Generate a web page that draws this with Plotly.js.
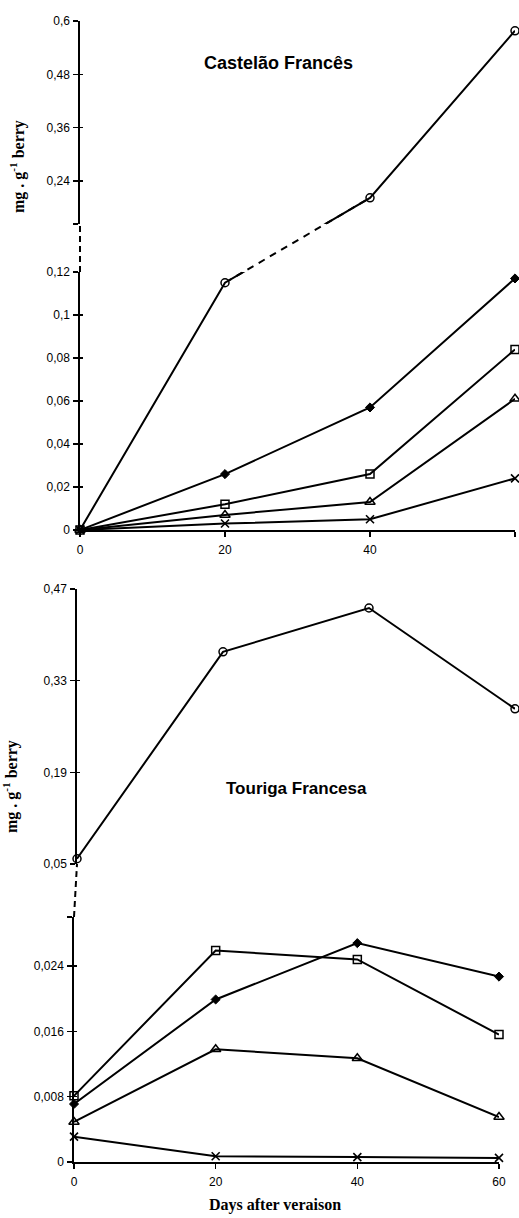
<!DOCTYPE html>
<html><head><meta charset="utf-8">
<script src="https://cdn.plot.ly/plotly-3.0.1.min.js"></script>
<style>html,body{margin:0;padding:0;background:#fff;} #chart{width:519px;height:1218px;}</style>
</head><body><div id="chart"></div>
<script>
// ---------------- DATA ----------------
const days = [0, 20, 40, 60];
const dayLabels = ['0', '20', '40', '60'];

// Castelão Francês (mg . g-1 berry)
const cfCircle   = [0, 0.115, 0.202, 0.578];
const cfDiamond  = [0, 0.026, 0.057, 0.117];
const cfSquare   = [0, 0.012, 0.026, 0.084];
const cfTriangle = [0, 0.007, 0.013, 0.061];
const cfCross    = [0, 0.003, 0.005, 0.024];
const cfLowerTicks  = [0, 0.02, 0.04, 0.06, 0.08, 0.1, 0.12];
const cfLowerLabels = ['0', '0,02', '0,04', '0,06', '0,08', '0,1', '0,12'];
const cfUpperTicks  = [0.24, 0.36, 0.48, 0.6];
const cfUpperLabels = ['0,24', '0,36', '0,48', '0,6'];

// Touriga Francesa (mg . g-1 berry)
const tfCircle   = [0.058, 0.374, 0.441, 0.287];
const tfDiamond  = [0.0071, 0.0199, 0.0268, 0.0227];
const tfSquare   = [0.0081, 0.0259, 0.0248, 0.0156];
const tfTriangle = [0.0049, 0.0138, 0.0127, 0.0055];
const tfCross    = [0.0031, 0.0007, 0.0006, 0.0005];
const tfLowerTicks  = [0, 0.008, 0.016, 0.024];
const tfLowerLabels = ['0', '0,008', '0,016', '0,024'];
const tfUpperTicks  = [0.05, 0.19, 0.33, 0.47];
const tfUpperLabels = ['0,05', '0,19', '0,33', '0,47'];

// ---------------- STYLE ----------------
const W = 519, H = 1218;
const px2x = p => p / W;
const px2y = p => 1 - p / H;
const tickFont = {family: 'Liberation Sans, Arial, sans-serif', size: 12, color: '#000'};
const LW = 2;
const styles = {
  circle:   {symbol: 'circle',        size: 8, color: '#fff', line: {color: '#000', width: 1.5}},
  diamond:  {symbol: 'diamond',       size: 7, color: '#000', line: {color: '#000', width: 1}},
  square:   {symbol: 'square',        size: 8, color: '#fff', line: {color: '#000', width: 1.5}},
  triangle: {symbol: 'triangle-up',   size: 9, color: '#fff', line: {color: '#000', width: 1.5}},
  cross:    {symbol: 'x-thin-open',   size: 8, color: '#000', line: {color: '#000', width: 1.6}}
};

const traces = [];
const layout = {
  width: W, height: H, margin: {l: 0, r: 0, t: 0, b: 0},
  paper_bgcolor: '#fff', plot_bgcolor: 'rgba(0,0,0,0)', showlegend: false,
  shapes: [], annotations: []
};
const axKey = (id, c) => (id === c ? c + 'axis' : c + 'axis' + id.slice(1));

function buildPanel(p) {
  const lowerH = p.lowerPx[1] - p.lowerPx[0];
  const gap = p.lowerPx[0] - p.upperPx[1];
  const upperH = p.upperPx[1] - p.upperPx[0];
  const total = lowerH + gap + upperH;
  const lo = p.lowerRange, up = p.upperRange;
  const f = v => v <= lo[1]
    ? (v - lo[0]) / (lo[1] - lo[0]) * lowerH
    : lowerH + gap + (v - up[0]) / (up[1] - up[0]) * upperH;

  const lv = p.lowerTicks.slice(), lt = p.lowerLabels.slice();
  if (!lv.includes(lo[1])) { lv.push(lo[1]); lt.push(' '); }
  const uv = p.upperTicks.slice(), ut = p.upperLabels.slice();
  if (!uv.includes(up[0])) { uv.unshift(up[0]); ut.unshift(' '); }

  const common = {showgrid: false, zeroline: false, fixedrange: true, tickmode: 'array',
    linecolor: '#000', tickcolor: '#000', tickwidth: 1.5, tickfont: tickFont};

  layout[axKey(p.yA, 'y')] = {domain: [px2y(p.lowerPx[1]), px2y(p.upperPx[0])], range: [0, total],
    visible: false, anchor: p.xLower, fixedrange: true};
  layout[axKey(p.yL, 'y')] = Object.assign({}, common, {
    domain: [px2y(p.lowerPx[1]), px2y(p.lowerPx[0])], range: [0, lowerH], anchor: p.xLower,
    showline: true, linewidth: 1.7, ticks: 'outside', ticklen: 5,
    tickvals: lv.map(f), ticktext: lt, ticklabelstandoff: 1});
  layout[axKey(p.yU, 'y')] = Object.assign({}, common, {
    domain: [px2y(p.upperPx[1]), px2y(p.upperPx[0])], range: [lowerH + gap, total], anchor: p.xUpper,
    showline: true, linewidth: 1.7, ticks: 'outside', ticklen: 5,
    tickvals: uv.map(f), ticktext: ut, ticklabelstandoff: 1});
  layout[axKey(p.yLi, 'y')] = Object.assign({}, common, {
    overlaying: p.yL, anchor: p.xLower, range: [0, lowerH], showline: false,
    ticks: 'inside', ticklen: 3, showticklabels: false, tickvals: lv.map(f)});
  layout[axKey(p.yUi, 'y')] = Object.assign({}, common, {
    overlaying: p.yU, anchor: p.xUpper, range: [lowerH + gap, total], showline: false,
    ticks: 'inside', ticklen: 3, showticklabels: false, tickvals: uv.map(f)});

  // dummy traces so overlay axes get drawn
  traces.push({x: [null], y: [null], xaxis: p.xLower, yaxis: p.yLi, hoverinfo: 'skip', mode: 'markers'});
  traces.push({x: [null], y: [null], xaxis: p.xUpper, yaxis: p.yUi, hoverinfo: 'skip', mode: 'markers'});

  // dashed axis break (between the two axis segments)
  layout.shapes.push({type: 'line', xref: 'paper', yref: 'paper', layer: 'above',
    x0: px2x(p.breakX[0]), x1: px2x(p.breakX[1]),
    y0: px2y(p.lowerPx[0]), y1: px2y(p.upperPx[1]),
    line: {color: '#000', width: 2, dash: '6px,4px'}});

  const dashed = [], solid = [], marks = [];
  p.series.forEach(s => {
    const d = s.vals.map(f);
    for (let i = 0; i < s.vals.length - 1; i++) {
      if ((s.vals[i] <= lo[1]) !== (s.vals[i + 1] <= lo[1])) {
        dashed.push({x: [days[i], days[i + 1]], y: [d[i], d[i + 1]], xaxis: s.xa, yaxis: p.yA,
          mode: 'lines', line: {color: '#000', width: LW, dash: '7px,6px'}, hoverinfo: 'skip'});
      }
    }
    [p.yL, p.yU].forEach(ya => solid.push({x: days, y: d, xaxis: s.xa, yaxis: ya, mode: 'lines',
      line: {color: '#000', width: LW}, hoverinfo: 'skip'}));
    marks.push({x: days, y: d, xaxis: s.xa, yaxis: p.yA, mode: 'markers', cliponaxis: false,
      marker: styles[s.style], hoverinfo: 'skip'});
  });
  traces.push(...dashed, ...solid, ...marks);
}

const xCommon = {range: [0, 60], showgrid: false, zeroline: false, fixedrange: true,
  tickmode: 'array', tickvals: days, ticktext: dayLabels, ticks: 'outside', ticklen: 5,
  tickwidth: 1.5, tickcolor: '#000', showline: true, linecolor: '#000', linewidth: 1.7,
  tickfont: tickFont, ticklabelstandoff: 3};
layout.xaxis  = Object.assign({}, xCommon, {domain: [px2x(80), px2x(515)], anchor: 'y2'});
layout.xaxis2 = Object.assign({}, xCommon, {domain: [px2x(74), px2x(499)], anchor: 'y7'});
layout.xaxis3 = {domain: [px2x(77), px2x(515)], range: [0, 60], visible: false, anchor: 'y8', fixedrange: true};

buildPanel({
  xLower: 'x', xUpper: 'x', yA: 'y', yL: 'y2', yU: 'y3', yLi: 'y4', yUi: 'y5',
  lowerPx: [272, 530], upperPx: [21, 224], breakX: [80, 80],
  lowerRange: [0, 0.12], upperRange: [0.1432, 0.6],
  lowerTicks: cfLowerTicks, lowerLabels: cfLowerLabels,
  upperTicks: cfUpperTicks, upperLabels: cfUpperLabels,
  series: [
    {vals: cfCircle, style: 'circle', xa: 'x'},
    {vals: cfDiamond, style: 'diamond', xa: 'x'},
    {vals: cfSquare, style: 'square', xa: 'x'},
    {vals: cfTriangle, style: 'triangle', xa: 'x'},
    {vals: cfCross, style: 'cross', xa: 'x'}
  ]
});

buildPanel({
  xLower: 'x2', xUpper: 'x3', yA: 'y6', yL: 'y7', yU: 'y8', yLi: 'y9', yUi: 'y10',
  lowerPx: [917, 1162], upperPx: [589, 864], breakX: [74, 77],
  lowerRange: [0, 0.030], upperRange: [0.05, 0.47],
  lowerTicks: tfLowerTicks, lowerLabels: tfLowerLabels,
  upperTicks: tfUpperTicks, upperLabels: tfUpperLabels,
  series: [
    {vals: tfCircle, style: 'circle', xa: 'x3'},
    {vals: tfDiamond, style: 'diamond', xa: 'x2'},
    {vals: tfSquare, style: 'square', xa: 'x2'},
    {vals: tfTriangle, style: 'triangle', xa: 'x2'},
    {vals: tfCross, style: 'cross', xa: 'x2'}
  ]
});

const titleFont = {family: 'Liberation Sans, Arial, sans-serif', size: 18, color: '#000'};
const serifFont = {family: 'Liberation Serif, Times New Roman, serif', size: 16, color: '#000'};
function ann(text, x, y, font, angle) {
  layout.annotations.push({text, x: px2x(x), y: px2y(y), xref: 'paper', yref: 'paper',
    xanchor: 'center', yanchor: 'middle', showarrow: false, font, textangle: angle || 0});
}
ann('<b>Castelão Francês</b>', 278, 63, titleFont);
ann('<b>Touriga Francesa</b>', 296, 788, Object.assign({}, titleFont, {size: 17}));
ann('<b>mg . g<sup>-1</sup> berry</b>', 18, 166, serifFont, -90);
ann('<b>mg . g<sup>-1</sup> berry</b>', 10, 787, serifFont, -90);
ann('<b>Days after veraison</b>', 275, 1205, serifFont);

Plotly.newPlot('chart', traces, layout, {staticPlot: true, displayModeBar: false});
</script></body></html>
